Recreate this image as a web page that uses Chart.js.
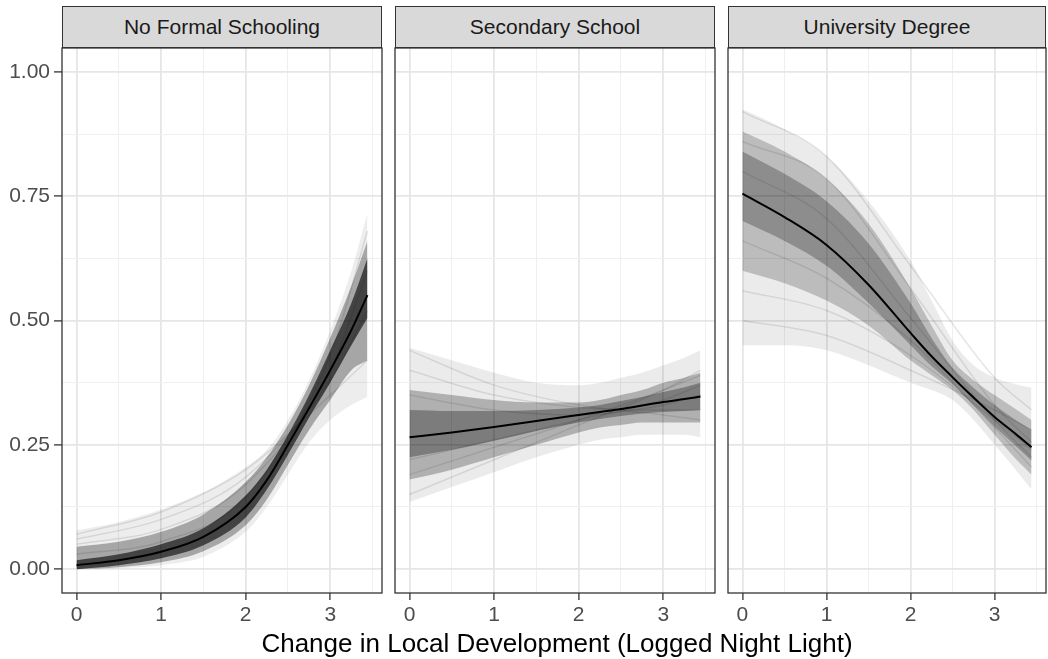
<!DOCTYPE html>
<html>
<head>
<meta charset="utf-8">
<script src="https://cdn.jsdelivr.net/npm/chart.js@4.4.1/dist/chart.umd.min.js"></script>
<style>
  body { margin: 0; background: #fff; width: 1048px; height: 659px; position: relative; overflow: hidden;
         font-family: "Liberation Sans", Arial, Helvetica, sans-serif; }
  .strip { position: absolute; top: 6px; height: 42px; box-sizing: border-box; background: #d9d9d9;
           border: 1.3px solid #333; display: flex; align-items: center; justify-content: center;
           font-size: 21px; color: #1a1a1a; }
  .panel { position: absolute; top: 46px; height: 613px; }
  #xtitle { position: absolute; left: 62px; width: 990px; top: 630px; line-height: 26px; text-align: center;
            font-size: 26px; color: #000; }
</style>
</head>
<body>
<div class="strip" style="left:62px;width:320px">No Formal Schooling</div>
<div class="strip" style="left:395px;width:320px">Secondary School</div>
<div class="strip" style="left:728px;width:318px">University Degree</div>
<div class="panel" style="left:0px;width:386px"><canvas id="c1"></canvas></div>
<div class="panel" style="left:393px;width:326px"><canvas id="c2"></canvas></div>
<div class="panel" style="left:726px;width:322px"><canvas id="c3"></canvas></div>
<div id="xtitle">Change in Local Development (Logged Night Light)</div>
<script>
// Data
const xs = [0, 0.5, 1, 1.5, 2, 2.25, 2.5, 2.75, 3, 3.25, 3.44];
const xsDraw = [0, 1, 2, 3, 3.44];
const xTicks = [0, 0.5, 1, 1.5, 2, 2.5, 3, 3.5];
const yTicks = [0, 0.125, 0.25, 0.375, 0.5, 0.625, 0.75, 0.875, 1];

// No Formal Schooling
const noneMean    = [0.008, 0.018, 0.035, 0.065, 0.125, 0.179, 0.250, 0.324, 0.400, 0.481, 0.551];
const noneCoreLo  = [0.000, 0.008, 0.022, 0.048, 0.104, 0.160, 0.230, 0.305, 0.375, 0.450, 0.505];
const noneCoreHi  = [0.018, 0.030, 0.050, 0.082, 0.148, 0.200, 0.270, 0.350, 0.440, 0.535, 0.625];
const noneInLo    = [0.000, 0.004, 0.014, 0.036, 0.088, 0.140, 0.210, 0.280, 0.340, 0.400, 0.420];
const noneInHi    = [0.045, 0.055, 0.075, 0.110, 0.175, 0.225, 0.290, 0.370, 0.465, 0.570, 0.660];
const noneOutLo   = [0.000, 0.002, 0.008, 0.025, 0.075, 0.125, 0.190, 0.255, 0.300, 0.330, 0.346];
const noneOutHi   = [0.078, 0.095, 0.120, 0.155, 0.205, 0.240, 0.300, 0.380, 0.480, 0.600, 0.716];
const noneDraws   = [[0.070, 0.115, 0.200, 0.350, 0.420],
                     [0.050, 0.080, 0.170, 0.400, 0.600],
                     [0.030, 0.055, 0.145, 0.430, 0.680],
                     [0.060, 0.100, 0.185, 0.380, 0.520]];

// Secondary School
const secMean     = [0.265, 0.275, 0.286, 0.298, 0.310, 0.316, 0.322, 0.329, 0.336, 0.342, 0.347];
const secCoreLo   = [0.225, 0.240, 0.258, 0.278, 0.295, 0.302, 0.308, 0.313, 0.316, 0.318, 0.320];
const secCoreHi   = [0.320, 0.318, 0.318, 0.320, 0.325, 0.330, 0.338, 0.346, 0.356, 0.366, 0.375];
const secInLo     = [0.180, 0.200, 0.225, 0.250, 0.275, 0.285, 0.290, 0.295, 0.295, 0.295, 0.295];
const secInHi     = [0.360, 0.350, 0.340, 0.335, 0.335, 0.340, 0.350, 0.360, 0.375, 0.385, 0.395];
const secOutLo    = [0.135, 0.165, 0.195, 0.225, 0.250, 0.260, 0.265, 0.270, 0.270, 0.270, 0.265];
const secOutHi    = [0.445, 0.420, 0.395, 0.375, 0.370, 0.375, 0.385, 0.395, 0.410, 0.425, 0.440];
const secDraws    = [[0.440, 0.370, 0.330, 0.310, 0.300],
                     [0.400, 0.350, 0.325, 0.320, 0.320],
                     [0.150, 0.220, 0.290, 0.360, 0.400],
                     [0.190, 0.245, 0.300, 0.360, 0.390],
                     [0.350, 0.320, 0.310, 0.330, 0.350],
                     [0.220, 0.260, 0.300, 0.340, 0.370]];

// University Degree
const uniMean     = [0.755, 0.708, 0.652, 0.572, 0.475, 0.428, 0.386, 0.345, 0.306, 0.272, 0.245];
const uniCoreLo   = [0.700, 0.660, 0.610, 0.535, 0.450, 0.408, 0.372, 0.330, 0.287, 0.248, 0.218];
const uniCoreHi   = [0.840, 0.795, 0.740, 0.655, 0.535, 0.465, 0.405, 0.365, 0.330, 0.300, 0.280];
const uniInLo     = [0.600, 0.575, 0.540, 0.490, 0.420, 0.390, 0.360, 0.320, 0.270, 0.222, 0.190];
const uniInHi     = [0.880, 0.840, 0.785, 0.695, 0.565, 0.490, 0.420, 0.380, 0.350, 0.322, 0.300];
const uniOutLo    = [0.450, 0.450, 0.440, 0.410, 0.375, 0.360, 0.340, 0.300, 0.250, 0.200, 0.160];
const uniOutHi    = [0.925, 0.885, 0.830, 0.740, 0.620, 0.540, 0.460, 0.410, 0.385, 0.372, 0.365];
const uniDraws    = [[0.920, 0.830, 0.610, 0.385, 0.320],
                     [0.860, 0.785, 0.565, 0.330, 0.255],
                     [0.500, 0.470, 0.400, 0.320, 0.280],
                     [0.560, 0.520, 0.430, 0.300, 0.240],
                     [0.660, 0.585, 0.460, 0.285, 0.205],
                     [0.800, 0.705, 0.505, 0.300, 0.225]];

function pts(xv, ys) { return xv.map((x, i) => ({ x, y: ys[i] })); }

function band(lo, hi, alpha) {
  const base = { pointRadius: 0, borderWidth: 0, cubicInterpolationMode: 'monotone' };
  return [
    { ...base, data: pts(xs, lo), fill: false },
    { ...base, data: pts(xs, hi), fill: '-1', backgroundColor: `rgba(0,0,0,${alpha})` }
  ];
}

const borderPlugin = {
  id: 'panelBorder',
  afterDatasetsDraw(chart) {
    const a = chart.chartArea, c = chart.ctx;
    c.save();
    c.strokeStyle = '#333';
    c.lineWidth = 1.3;
    c.strokeRect(a.left, a.top, a.right - a.left, a.bottom - a.top);
    c.restore();
  }
};

const isMajorX = c => c.tick && c.tick.value % 1 === 0;
const isMajorY = c => c.tick && (c.tick.value * 4) % 1 === 0;

function makePanel(id, sets, alphas, showY, pad) {
  const datasets = [
    ...band(sets.outLo, sets.outHi, alphas[0]),
    ...band(sets.inLo, sets.inHi, alphas[1]),
    ...band(sets.coreLo, sets.coreHi, alphas[2]),
    ...sets.draws.map(d => ({ data: pts(xsDraw, d), borderColor: 'rgba(0,0,0,0.10)', borderWidth: 1.5,
                              pointRadius: 0, fill: false, cubicInterpolationMode: 'monotone' })),
    { data: pts(xs, sets.mean), borderColor: '#000', borderWidth: 2, pointRadius: 0, fill: false,
      cubicInterpolationMode: 'monotone' }
  ];
  const font = { family: '"Liberation Sans", Arial, Helvetica, sans-serif', size: 21 };
  new Chart(document.getElementById(id), {
    type: 'line',
    data: { datasets },
    plugins: [borderPlugin],
    options: {
      responsive: true, maintainAspectRatio: false, animation: false,
      layout: { padding: pad },
      plugins: { legend: { display: false }, tooltip: { enabled: false } },
      scales: {
        x: {
          type: 'linear', min: -0.172, max: 3.612,
          afterBuildTicks: s => { s.ticks = xTicks.map(v => ({ value: v })); },
          afterFit: s => { s.height = 66; s.paddingLeft = 0; s.paddingRight = 0; },
          border: { display: false },
          grid: {
            color: c => isMajorX(c) ? '#e6e6e6' : '#efefef',
            lineWidth: c => isMajorX(c) ? 1.8 : 1,
            tickColor: c => isMajorX(c) ? '#333' : 'rgba(0,0,0,0)',
            tickWidth: 1.3, tickLength: 7
          },
          ticks: { autoSkip: false, maxRotation: 0, padding: 3, color: '#4d4d4d', font,
                   callback: v => v % 1 === 0 ? String(v) : '' }
        },
        y: {
          min: -0.048, max: 1.048,
          afterBuildTicks: s => { s.ticks = yTicks.map(v => ({ value: v })); },
          afterFit: s => { s.width = showY ? 62 : 0; s.paddingTop = 0; s.paddingBottom = 0; },
          border: { display: false },
          grid: {
            color: c => isMajorY(c) ? '#e6e6e6' : '#efefef',
            lineWidth: c => isMajorY(c) ? 1.8 : 1,
            tickColor: c => isMajorY(c) ? '#333' : 'rgba(0,0,0,0)',
            tickWidth: 1.3, tickLength: 8, drawTicks: showY
          },
          ticks: { display: showY, padding: 4, color: '#4d4d4d', font,
                   callback: v => (v * 4) % 1 === 0 ? v.toFixed(2) : '' }
        }
      }
    }
  });
}

makePanel('c1', { mean: noneMean, coreLo: noneCoreLo, coreHi: noneCoreHi, inLo: noneInLo, inHi: noneInHi,
                  outLo: noneOutLo, outHi: noneOutHi, draws: noneDraws }, [0.07, 0.3, 0.6], true,
          { left: 0, right: 4, top: 2, bottom: 0 });
makePanel('c2', { mean: secMean, coreLo: secCoreLo, coreHi: secCoreHi, inLo: secInLo, inHi: secInHi,
                  outLo: secOutLo, outHi: secOutHi, draws: secDraws }, [0.08, 0.25, 0.3], false,
          { left: 2, right: 4, top: 2, bottom: 0 });
makePanel('c3', { mean: uniMean, coreLo: uniCoreLo, coreHi: uniCoreHi, inLo: uniInLo, inHi: uniInHi,
                  outLo: uniOutLo, outHi: uniOutHi, draws: uniDraws }, [0.08, 0.2, 0.25], false,
          { left: 2, right: 2, top: 2, bottom: 0 });
</script>
</body>
</html>
